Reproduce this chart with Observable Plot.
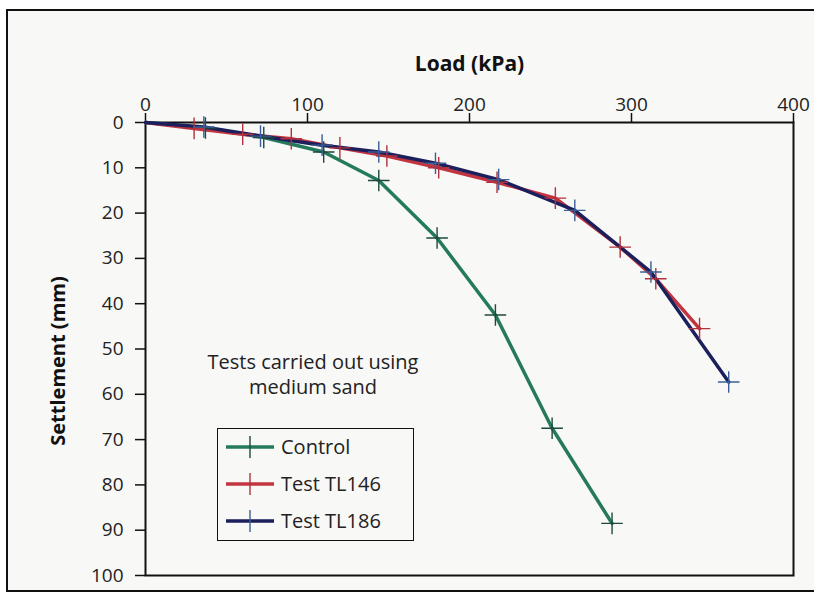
<!DOCTYPE html>
<html><head><meta charset="utf-8">
<script src="https://cdn.jsdelivr.net/npm/d3@7"></script>
<script src="https://cdn.jsdelivr.net/npm/@observablehq/plot@0.6"></script>
<style>
html,body{margin:0;padding:0;background:#fff;overflow:hidden;width:814px;height:592px;font-family:"Open Sans",sans-serif;}
#border{position:absolute;left:6px;top:9px;width:830px;height:579px;border:2px solid #111;background:#f8f8f7;}
#chart{position:absolute;left:0;top:0;}
.note{position:absolute;left:163px;width:300px;text-align:center;font-size:20px;color:#222;line-height:22px;}
#legend{position:absolute;left:217px;top:428px;width:195px;height:111px;border:1.5px solid #111;background:#f8f8f7;}
.row{position:absolute;left:0;height:26px;width:195px;}
.row svg{position:absolute;left:8px;top:0;}
.row span{position:absolute;left:63px;top:0;font-size:20px;line-height:26px;color:#222;}
</style></head>
<body>
<div id="border"></div>
<div id="chart"></div>
<div class="note" style="top:351px">Tests carried out using</div>
<div class="note" style="top:376px">medium sand</div>
<div id="legend"></div>
<script>
const seriesNames = ["Control", "Test TL146", "Test TL186"];
const lineColors = ["#267a5c", "#c2343f", "#1b1f5c"];
const markColors = ["#1d4a3c", "#b3303c", "#3b5f96"];

const controlLoad = [0, 37, 73, 110, 144, 180, 216, 251, 288];
const controlSettle = [0, 1.2, 3.3, 6.5, 12.8, 25.5, 42.5, 67.5, 88.5];

const tl146Load = [0, 30, 60, 90, 120, 149, 181, 217, 253, 293, 315, 342];
const tl146Settle = [0, 1.3, 2.6, 3.6, 5.6, 7.4, 10.0, 13.2, 16.7, 27.5, 34.5, 45.5];

const tl186Load = [0, 36, 71, 109, 144, 179, 218, 265, 312, 360];
const tl186Settle = [0, 1.0, 3.0, 5.0, 6.5, 9.0, 12.6, 19.4, 33.0, 57.3];

const xTicks = [0, 100, 200, 300, 400];
const yTicks = [0, 10, 20, 30, 40, 50, 60, 70, 80, 90, 100];

const loads = [controlLoad, tl146Load, tl186Load];
const settles = [controlSettle, tl146Settle, tl186Settle];
const rows = [];
seriesNames.forEach((s, i) => loads[i].forEach((l, j) => rows.push({series: s, load: l, settle: settles[i][j], idx: i})));

const font = "Open Sans, sans-serif";
const plot = Plot.plot({
  width: 814, height: 592,
  marginLeft: 145, marginRight: 21, marginTop: 122, marginBottom: 17,
  style: {fontFamily: font, fontSize: "19px", background: "transparent", color: "#222"},
  x: {domain: [0, 400], ticks: xTicks},
  y: {domain: [0, 100], reverse: true, ticks: yTicks},
  color: {domain: seriesNames, range: lineColors},
  marks: [
    Plot.axisX({anchor: "top", ticks: xTicks, tickSize: 10, tickPadding: 2, label: null, fontSize: 19, strokeWidth: 1.5, stroke: "#111"}),
    Plot.axisY({anchor: "left", ticks: yTicks, tickSize: 10, tickPadding: 12, label: null, fontSize: 19, strokeWidth: 1.5, stroke: "#111"}),
    Plot.frame({stroke: "#111", strokeWidth: 2}),
    Plot.text(["Load (kPa)"], {frameAnchor: "top", dy: -66, fontWeight: "bold", fontSize: 21, fill: "#111"}),
    Plot.text(["Settlement (mm)"], {frameAnchor: "left", textAnchor: "middle", dx: -87, dy: 12, rotate: -90, fontWeight: "bold", fontSize: 20, fill: "#111"}),
    Plot.line(rows, {x: "load", y: "settle", z: "series", stroke: "series", strokeWidth: 3.5, strokeLinejoin: "round"}),
    Plot.dot(rows.filter(d => d.load > 0), {x: "load", y: "settle", symbol: "plus", r: 7, stroke: d => markColors[d.idx], strokeWidth: 1.4})
  ]
});
d3.select(plot).selectAll('g[aria-label$="tick label"]').attr("font-size", 19).style("font-size", "19px");
d3.select(plot).selectAll('g[aria-label$="tick label"] text').style("font-size", "19px");
document.getElementById("chart").appendChild(plot);

const legend = document.getElementById("legend");
seriesNames.forEach((s, i) => {
  const row = document.createElement("div");
  row.className = "row";
  row.style.top = (5 + i * 37) + "px";
  row.innerHTML = `<svg width="50" height="26"><line x1="0" y1="13" x2="48" y2="13" stroke="${lineColors[i]}" stroke-width="3.5"/><line x1="24" y1="2" x2="24" y2="24" stroke="${markColors[i]}" stroke-width="1.4"/></svg><span>${s}</span>`;
  legend.appendChild(row);
});
</script>
</body></html>
